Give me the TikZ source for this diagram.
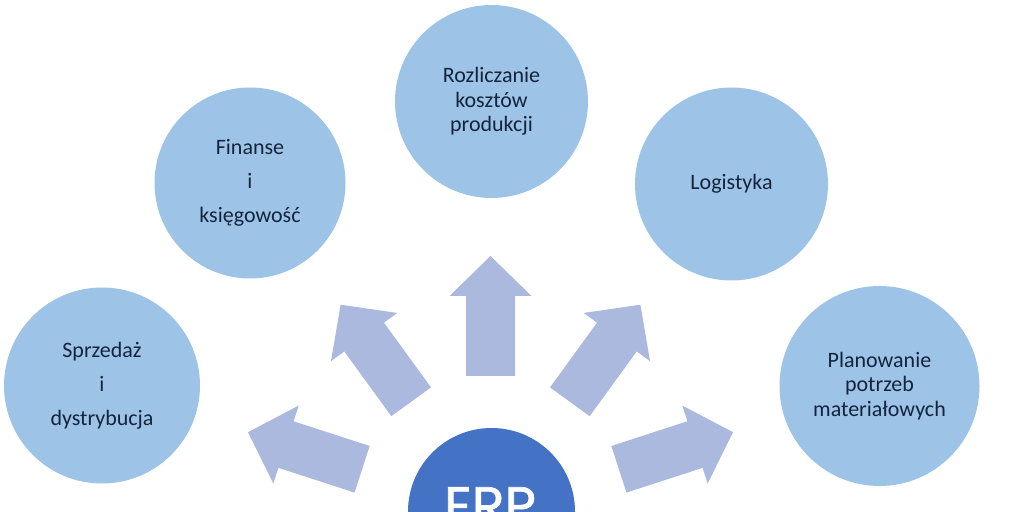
\documentclass[tikz,border=0pt]{standalone}
\usepackage{fontspec}
\setmainfont{Carlito}
\newfontfamily\erpfont[FakeBold=1.2]{Poppins}
\definecolor{lightc}{HTML}{9DC3E6}
\definecolor{arrowc}{HTML}{ACB9DE}
\definecolor{darkc}{HTML}{4472C4}
\definecolor{txtc}{HTML}{14243F}
\begin{document}
\begin{tikzpicture}[x=1pt,y=1pt,
  modc/.style={circle, fill=lightc, inner sep=0pt, align=center, text=txtc},
  tight/.style={font=\fontsize{22}{24.5}\selectfont},
  loose/.style={font=\fontsize{22}{34}\selectfont},
  blockarrow/.style={fill=arrowc}]
\useasboundingbox (0,0) rectangle (1024,511);
\clip (0,0) rectangle (1024,511);
\coordinate (hub) at (490.5,0);
\node[modc, tight, minimum size=193pt] (prod) at (491.5,409.5) {Rozliczanie\\kosztów\\produkcji};
\node[modc, loose, minimum size=191pt] (fin) at (250,328) {Finanse\\i\\księgowość};
\node[modc, tight, minimum size=193pt] (log) at (731.5,327) {Logistyka};
\node[modc, loose, minimum size=196pt] (sprz) at (102,125.5) {Sprzedaż\\i\\dystrybucja};
\node[modc, tight, minimum size=200pt] (plan) at (879.5,125) {Planowanie\\potrzeb\\materiałowych};
\node[circle, fill=darkc, minimum size=167pt, inner sep=0pt] (erp) at (491.5,-0.5) {};
\node[anchor=north, inner sep=0pt, text=white, font=\erpfont\fontsize{54}{54}\selectfont] (erptext) at (490,24) {ERP};
\foreach \a in {18,54,90,126,162}
  \fill[blockarrow, shift={(hub)}, rotate=\a] (135,-24.5) -- (215,-24.5) -- (215,-41) -- (255,0) -- (215,41) -- (215,24.5) -- (135,24.5) -- cycle;
\end{tikzpicture}
\end{document}
